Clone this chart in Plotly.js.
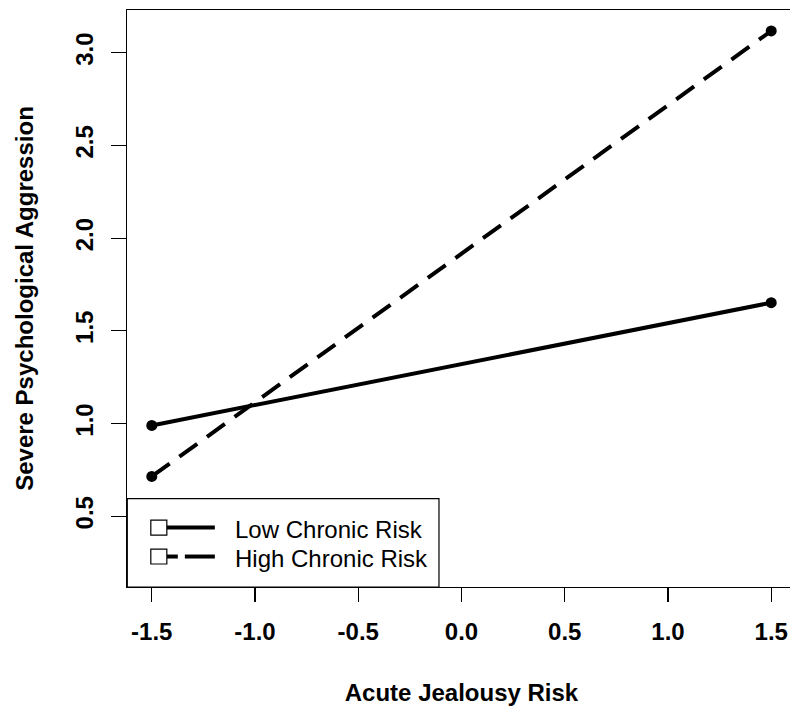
<!DOCTYPE html>
<html>
<head>
<meta charset="utf-8">
<script src="https://cdn.plot.ly/plotly-3.0.1.min.js"></script>
<style>
  html, body { margin: 0; padding: 0; overflow: hidden; background: #fff; }
  #chart { width: 800px; height: 709px; }
</style>
</head>
<body>
<div id="chart"></div>
<script>
// ---- data ----
const acuteRisk = [-1.5, 1.5];
const lowChronic = [0.99, 1.652];
const highChronic = [0.715, 3.117];
const seriesNames = ["Low Chronic Risk", "High Chronic Risk"];
const xTickVals = [-1.5, -1.0, -0.5, 0.0, 0.5, 1.0, 1.5];
const xTickText = ["-1.5", "-1.0", "-0.5", "0.0", "0.5", "1.0", "1.5"];
const yTickVals = [0.5, 1.0, 1.5, 2.0, 2.5, 3.0];
const yTickText = ["0.5", "1.0", "1.5", "2.0", "2.5", "3.0"];
const xTitle = "Acute Jealousy Risk";
const yTitle = "Severe Psychological Aggression";

// ---- layout geometry (pixels) ----
const W = 800, H = 709;
const M = { l: 127.2, r: 4.2, t: 10, b: 121.5 };
const PW = W - M.l - M.r, PH = H - M.t - M.b;
const px = x => (x - M.l) / PW;          // pixel -> paper x
const py = y => (H - M.b - y) / PH;      // pixel -> paper y

const FONT = "Liberation Sans, Arial, sans-serif";

const traces = [
  {
    x: acuteRisk, y: lowChronic, name: seriesNames[0],
    type: "scatter", mode: "lines+markers",
    line: { color: "#000", width: 4, dash: "solid" },
    marker: { color: "#000", size: 11, symbol: "circle" },
    showlegend: false, hoverinfo: "x+y"
  },
  {
    x: acuteRisk, y: highChronic, name: seriesNames[1],
    type: "scatter", mode: "lines+markers",
    line: { color: "#000", width: 4, dash: "22px,12px" },
    marker: { color: "#000", size: 11, symbol: "circle" },
    showlegend: false, hoverinfo: "x+y"
  }
];

// custom R-style legend
const legRows = [528, 557];
const shapes = [
  { type: "rect", xref: "paper", yref: "paper",
    x0: px(127.5), x1: px(439), y0: py(587.5), y1: py(499),
    line: { color: "#000", width: 1.2 }, fillcolor: "#fff", layer: "above" },
  // low: solid
  { type: "line", xref: "paper", yref: "paper",
    x0: px(167), x1: px(215), y0: py(legRows[0]), y1: py(legRows[0]),
    line: { color: "#000", width: 4 }, layer: "above" },
  // high: dashed
  { type: "line", xref: "paper", yref: "paper",
    x0: px(167), x1: px(178), y0: py(legRows[1]), y1: py(legRows[1]),
    line: { color: "#000", width: 4 }, layer: "above" },
  { type: "line", xref: "paper", yref: "paper",
    x0: px(185), x1: px(215), y0: py(legRows[1]), y1: py(legRows[1]),
    line: { color: "#000", width: 4 }, layer: "above" }
];
legRows.forEach(r => {
  shapes.push({ type: "rect", xref: "paper", yref: "paper",
    x0: px(151), x1: px(167), y0: py(r + 7.5), y1: py(r - 7.5),
    line: { color: "#000", width: 1.2 }, fillcolor: "#fff", layer: "above" });
});

const annotations = seriesNames.map((n, i) => ({
  xref: "paper", yref: "paper", x: px(233), y: py(legRows[i] + 2),
  xanchor: "left", yanchor: "middle", showarrow: false, text: n,
  font: { family: FONT, size: 24, color: "#000" }
}));

const layout = {
  width: W, height: H,
  margin: M,
  paper_bgcolor: "#fff", plot_bgcolor: "#fff",
  showlegend: false,
  font: { family: FONT, color: "#000" },
  xaxis: {
    range: [-1.62, 1.62], tickvals: xTickVals, ticktext: xTickText,
    ticks: "outside", ticklen: 14, tickwidth: 1.2, tickcolor: "#000",
    showline: true, mirror: true, linecolor: "#000", linewidth: 1.2,
    showgrid: false, zeroline: false, ticklabelstandoff: 9,
    tickfont: { family: FONT, size: 24, color: "#000", weight: "bold" },
    title: { text: "<b>" + xTitle + "</b>", standoff: 40,
             font: { family: FONT, size: 24, color: "#000" } },
    automargin: false, fixedrange: true
  },
  yaxis: {
    range: [0.119, 3.23], tickvals: yTickVals, ticktext: yTickText,
    ticks: "outside", ticklen: 15, tickwidth: 1.2, tickcolor: "#000",
    showline: true, mirror: true, linecolor: "#000", linewidth: 1.2,
    showgrid: false, zeroline: false, tickangle: -90, ticklabelstandoff: 8,
    tickfont: { family: FONT, size: 24, color: "#000", weight: "bold" },
    title: { text: "<b>" + yTitle + "</b>", standoff: 30,
             font: { family: FONT, size: 24, color: "#000" } },
    automargin: false, fixedrange: true
  },
  shapes: shapes,
  annotations: annotations
};

Plotly.newPlot("chart", traces, layout, { displayModeBar: false, staticPlot: true });
</script>
</body>
</html>
